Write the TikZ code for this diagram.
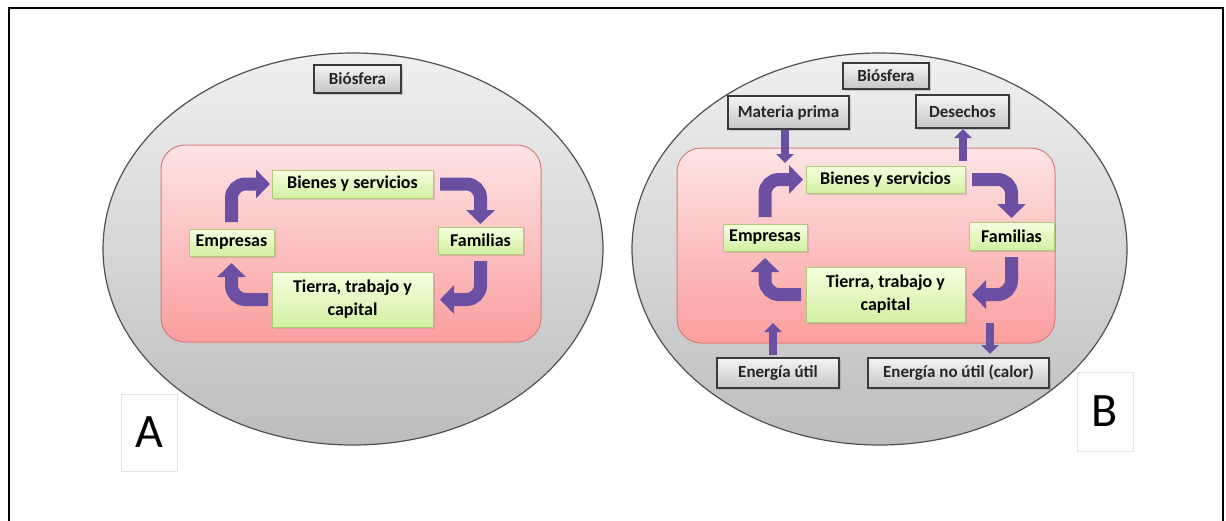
\documentclass[tikz,border=0pt]{standalone}
\usepackage{fontspec}
\setmainfont{Carlito}
\usetikzlibrary{arrows.meta,shapes.geometric,shadows}

\definecolor{shellTop}{HTML}{F0F0F0}
\definecolor{shellBot}{HTML}{BDBDBD}
\definecolor{shellLine}{HTML}{505050}
\definecolor{pinkTop}{HTML}{FDE4E4}
\definecolor{pinkBot}{HTML}{FB9E9E}
\definecolor{pinkLine}{HTML}{DA7C7C}
\definecolor{greenTop}{HTML}{F6FFE0}
\definecolor{greenBot}{HTML}{D2F0A2}
\definecolor{greenLine}{HTML}{AFCB78}
\definecolor{grayTop}{HTML}{F4F4F4}
\definecolor{grayBot}{HTML}{C6C6C6}
\definecolor{grayLine}{HTML}{3A3A3A}
\definecolor{cycleCol}{HTML}{6A4FA2}
\definecolor{tagLine}{HTML}{E4E4E4}

\begin{document}
\begin{tikzpicture}[x=1pt,y=-1pt,
  shell/.style={ellipse, draw=shellLine, line width=1.2pt, top color=shellTop,
    bottom color=shellBot, inner sep=0pt, outer sep=0pt},
  economy/.style={rectangle, rounded corners=24pt, draw=pinkLine, line width=1pt,
    top color=pinkTop, bottom color=pinkBot, inner sep=0pt, outer sep=0pt},
  agent/.style={rectangle, draw=greenLine, line width=1pt, top color=greenTop,
    bottom color=greenBot, align=center, inner sep=0pt, outer sep=0pt,
    font=\fontsize{18}{23}\selectfont\bfseries,
    drop shadow={shadow xshift=1.5pt, shadow yshift=-1.5pt, opacity=0.25}},
  stock/.style={rectangle, draw=grayLine, line width=1.2pt, top color=grayTop,
    bottom color=grayBot, inner sep=0pt, outer sep=0pt, text=black!85,
    font=\fontsize{17}{20}\selectfont\bfseries,
    drop shadow={shadow xshift=1.5pt, shadow yshift=-1.5pt, opacity=0.35}},
  cycle/.style={draw=cycleCol, line width=13pt, rounded corners=14pt,
    -{Triangle[width=28pt,length=14pt]}},
  flow/.style={draw=cycleCol, line width=8pt, -{Triangle[width=17pt,length=9pt]}},
  tag/.style={rectangle, draw=tagLine, fill=white, inner sep=0pt,
    font=\fontsize{48}{48}\selectfont}]

\useasboundingbox (0,0) rectangle (1226,520);
\clip (0,0) rectangle (1226,520);

% outer frame
\draw[line width=2pt] (9,8) rectangle (1223,540);

% ---------------- panel A ----------------
\node[shell, minimum width=500pt, minimum height=392pt] (shellA) at (353,249) {};
\node[economy, minimum width=380pt, minimum height=197pt] (ecoA) at (351,243.5) {};
\node[stock, minimum width=87pt, minimum height=28pt] (bioA) at (357.5,79) {Biósfera};

\node[agent, minimum width=161pt, minimum height=28pt] (bieA) at (352.5,184) {Bienes y servicios};
\node[agent, minimum width=85pt, minimum height=27pt] (empA) at (231.5,242.5) {Empresas};
\node[agent, minimum width=85pt, minimum height=27pt] (famA) at (480.5,240.5) {Familias};
\node[agent, minimum width=161pt, minimum height=55pt] (tieA) at (352.5,299.5) {Tierra, trabajo y\\capital};

\draw[cycle, shorten <=7pt, shorten >=2pt] (empA.north) |- (bieA.west);
\draw[cycle, shorten <=7pt, shorten >=3pt] (bieA.east) -| (famA.north);
\draw[cycle, shorten <=7pt, shorten >=7pt] (famA.south) |- (tieA.east);
\draw[cycle, shorten <=4pt, shorten >=7pt] (tieA.west) -| (empA.south);

\node[tag, minimum width=56pt, minimum height=77pt] (tagA) at (149,432.5) {A};

% ---------------- panel B ----------------
\node[shell, minimum width=495pt, minimum height=392pt] (shellB) at (879.5,249) {};
\node[economy, minimum width=378pt, minimum height=195pt] (ecoB) at (866,245.5) {};
\node[stock, minimum width=86pt, minimum height=26pt] (bioB) at (886,76) {Biósfera};
\node[stock, minimum width=121pt, minimum height=33pt] (matB) at (788.5,112.5) {Materia prima};
\node[stock, minimum width=93pt, minimum height=33pt] (desB) at (962.5,111.5) {Desechos};
\node[stock, minimum width=122pt, minimum height=30pt] (eutB) at (778,373) {Energía útil};
\node[stock, minimum width=181pt, minimum height=30pt] (enuB) at (958.5,373) {Energía no útil (calor)};

\node[agent, minimum width=159pt, minimum height=27pt] (bieB) at (885.5,179.5) {Bienes y servicios};
\node[agent, minimum width=84pt, minimum height=27pt] (empB) at (765,237.5) {Empresas};
\node[agent, minimum width=85pt, minimum height=28pt] (famB) at (1011.5,236) {Familias};
\node[agent, minimum width=159pt, minimum height=55pt] (tieB) at (885.5,294.5) {Tierra, trabajo y\\capital};

\draw[cycle, shorten <=7pt, shorten >=3pt] (empB.north) |- (bieB.west);
\draw[cycle, shorten <=7pt, shorten >=4pt] (bieB.east) -| (famB.north);
\draw[cycle, shorten <=7pt, shorten >=7pt] (famB.south) |- (tieB.east);
\draw[cycle, shorten <=5pt, shorten >=7pt] (tieB.west) -| (empB.south);

% exchanges with the biosphere
\coordinate (matH) at (785,163);
\coordinate (desT) at (963,161);
\coordinate (eutH) at (773,323);
\coordinate (enuT) at (990,323);
\draw[flow, shorten <=1pt] (matB.south -| matH) -- (matH);
\draw[flow, shorten >=1pt] (desT) -- (desT |- desB.south);
\draw[flow, shorten <=3pt] (eutB.north -| eutH) -- (eutH);
\draw[flow, shorten >=4pt] (enuT) -- (enuT |- enuB.north);

\node[tag, minimum width=56pt, minimum height=79pt] (tagB) at (1105,411.5) {B};

\end{tikzpicture}
\end{document}
